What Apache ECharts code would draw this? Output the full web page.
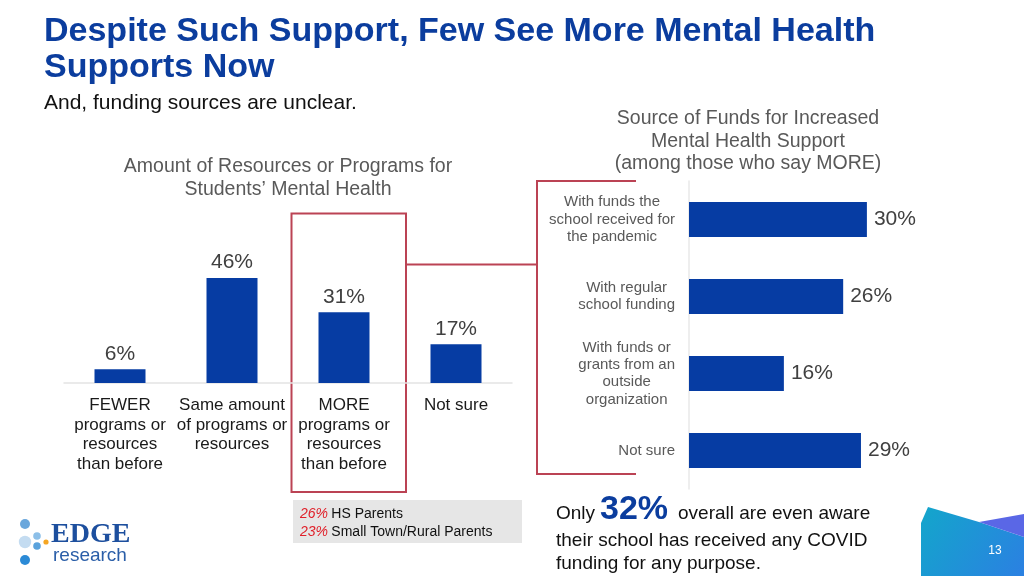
<!DOCTYPE html>
<html>
<head>
<meta charset="utf-8">
<script src="https://cdn.jsdelivr.net/npm/echarts@6/dist/echarts.min.js"></script>
<style>
html,body{margin:0;padding:0;background:#fff;}
#chart{width:1024px;height:576px;}
</style>
</head>
<body>
<div id="chart"></div>
<script>
// ---- Data ----
const leftCategories = ['FEWER\nprograms or\nresources\nthan before', 'Same amount\nof programs or\nresources', 'MORE\nprograms or\nresources\nthan before', 'Not sure'];
const leftValues = [6, 46, 31, 17];
const rightCategories = ['With funds the\nschool received for\nthe pandemic', 'With regular\nschool funding', 'With funds or\ngrants from an\noutside\norganization', 'Not sure'];
const rightValues = [30, 26, 16, 29];
const subgroupPcts = ['26%', '23%'];
const subgroupNames = ['HS Parents', 'Small Town/Rural Parents'];
const awarePct = '32%';

const FONT = '"Liberation Sans", Arial, Helvetica, sans-serif';
const BLUE = '#063ca3';
const RED = '#bb4354';

const chart = echarts.init(document.getElementById('chart'), null, {renderer: 'canvas'});

const option = {
  backgroundColor: '#ffffff',
  animation: false,
  grid: [
    {left: 64, right: 512, top: 155, bottom: 193},
    {left: 689, right: 38.5, top: 181, bottom: 87}
  ],
  xAxis: [
    {
      gridIndex: 0, type: 'category', data: leftCategories,
      axisLine: {show: true, lineStyle: {color: '#e3e3e3', width: 1.5}},
      axisTick: {show: false},
      axisLabel: {fontFamily: FONT, fontSize: 17, lineHeight: 19.5, color: '#1a1a1a', margin: 13, interval: 0}
    },
    {
      gridIndex: 1, type: 'value', min: 0, max: 50, show: false
    }
  ],
  yAxis: [
    {gridIndex: 0, type: 'value', min: 0, max: 100, show: false},
    {
      gridIndex: 1, type: 'category', data: rightCategories, inverse: true,
      axisLine: {show: true, lineStyle: {color: '#e8e8e8', width: 1.5}},
      axisTick: {show: false},
      axisLabel: {
        margin: 14, align: 'right', interval: 0,
        formatter: function (v) { return v.split('\n').map(function (l) { return '{c|' + l + '}'; }).join('\n'); },
        rich: {c: {fontFamily: FONT, fontSize: 15, lineHeight: 17.3, color: '#595959', align: 'center'}}
      }
    }
  ],
  series: [
    {
      type: 'bar', xAxisIndex: 0, yAxisIndex: 0, data: leftValues, barWidth: 51,
      itemStyle: {color: BLUE},
      label: {show: true, position: 'top', distance: 5, formatter: '{c}%', fontFamily: FONT, fontSize: 21, color: '#404040'}
    },
    {
      type: 'bar', xAxisIndex: 1, yAxisIndex: 1, data: rightValues, barWidth: 35,
      itemStyle: {color: BLUE},
      label: {show: true, position: 'right', distance: 7, formatter: '{c}%', fontFamily: FONT, fontSize: 21, color: '#404040'}
    }
  ],
  graphic: [
    // Titles
    {type: 'text', left: 44, top: 14, style: {text: 'Despite Such Support, Few See More Mental Health\nSupports Now', font: 'bold 34px ' + FONT, fill: '#0b3d9e', lineHeight: 36}},
    {type: 'text', left: 44, top: 91, style: {text: 'And, funding sources are unclear.', font: '21px ' + FONT, fill: '#111111', lineHeight: 24}},
    {type: 'text', x: 288, y: 155, style: {text: 'Amount of Resources or Programs for\nStudents\u2019 Mental Health', font: '19.5px ' + FONT, fill: '#595959', lineHeight: 23, textAlign: 'center', textVerticalAlign: 'top'}},
    {type: 'text', x: 748, y: 107.5, style: {text: 'Source of Funds for Increased\nMental Health Support\n(among those who say MORE)', font: '19.5px ' + FONT, fill: '#595959', lineHeight: 22.5, textAlign: 'center', textVerticalAlign: 'top'}},
    // Red highlight box and bracket
    {type: 'rect', shape: {x: 291.5, y: 213.5, width: 114.5, height: 278.5}, style: {fill: 'none', stroke: RED, lineWidth: 2}},
    {type: 'polyline', shape: {points: [[406, 264.5], [537, 264.5]]}, style: {fill: 'none', stroke: RED, lineWidth: 2}},
    {type: 'polyline', shape: {points: [[636, 181], [537, 181], [537, 474], [636, 474]]}, style: {fill: 'none', stroke: RED, lineWidth: 2}},
    // Gray subgroup box
    {type: 'rect', shape: {x: 293, y: 500, width: 229, height: 43}, style: {fill: '#e6e6e6'}},
    {type: 'text', x: 300, y: 505, style: {
      text: '{p|' + subgroupPcts[0] + '} {n|' + subgroupNames[0] + '}\n{p|' + subgroupPcts[1] + '} {n|' + subgroupNames[1] + '}',
      rich: {p: {font: 'italic 14px ' + FONT, fill: '#e0202a', lineHeight: 18}, n: {font: '14px ' + FONT, fill: '#111111', lineHeight: 18}},
      textVerticalAlign: 'top'}},
    // Bottom note
    {type: 'text', x: 556, y: 514, style: {text: 'Only', font: '19px ' + FONT, fill: '#111111', textVerticalAlign: 'middle'}},
    {type: 'text', x: 600, y: 510, style: {text: awarePct, font: 'bold 34px ' + FONT, fill: '#0b3d9e', textVerticalAlign: 'middle'}},
    {type: 'text', x: 678, y: 514, style: {text: 'overall are even aware', font: '19px ' + FONT, fill: '#111111', textVerticalAlign: 'middle'}},
    {type: 'text', x: 556, y: 529, style: {text: 'their school has received any COVID\nfunding for any purpose.', font: '19px ' + FONT, fill: '#111111', lineHeight: 23.5, textVerticalAlign: 'top'}},
    // Corner decoration
    {type: 'polygon', shape: {points: [[921, 576], [921, 523], [928, 507], [979, 522], [1024, 537], [1024, 576]]},
      style: {fill: new echarts.graphic.LinearGradient(0, 0, 1, 1, [{offset: 0, color: '#13a6cb'}, {offset: 1, color: '#2b80e2'}])}},
    {type: 'polygon', shape: {points: [[979, 522], [1024, 514], [1024, 537]]}, style: {fill: '#5a67e6'}},
    {type: 'text', x: 995, y: 551, style: {text: '13', font: '12px ' + FONT, fill: '#ffffff', textAlign: 'center', textVerticalAlign: 'middle'}},
    // Logo
    {type: 'circle', shape: {cx: 25, cy: 524, r: 5}, style: {fill: '#6aa7dc'}},
    {type: 'circle', shape: {cx: 25, cy: 542, r: 6.2}, style: {fill: '#c4dcf1'}},
    {type: 'circle', shape: {cx: 37, cy: 536, r: 3.8}, style: {fill: '#8cbfe8'}},
    {type: 'circle', shape: {cx: 37, cy: 546, r: 3.8}, style: {fill: '#5aa2dc'}},
    {type: 'circle', shape: {cx: 46, cy: 542, r: 2.6}, style: {fill: '#f5a623'}},
    {type: 'circle', shape: {cx: 25, cy: 560, r: 5}, style: {fill: '#2b8ad6'}},
    {type: 'text', left: 51, top: 521, style: {text: 'EDGE', font: 'bold 28px "Liberation Serif", "DejaVu Serif", serif', fill: '#1d4f9e'}},
    {type: 'text', left: 53, top: 546, style: {text: 'research', font: '19px ' + FONT, fill: '#2a5ea8'}}
  ]
};
chart.setOption(option);
</script>
</body>
</html>
